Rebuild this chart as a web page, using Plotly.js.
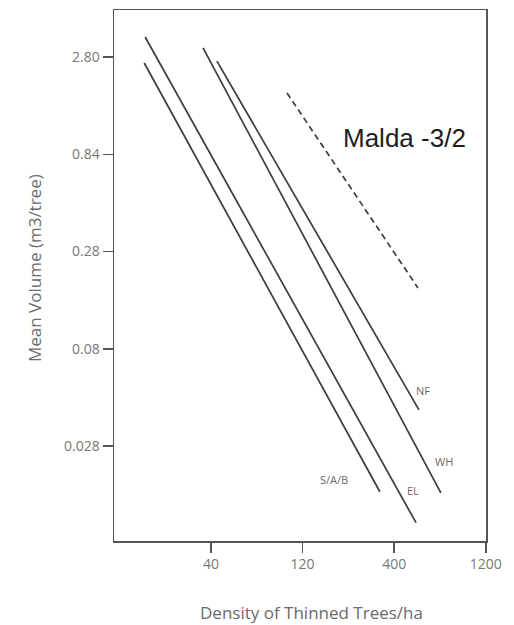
<!DOCTYPE html>
<html><head><meta charset="utf-8">
<script src="https://cdn.plot.ly/plotly-3.0.1.min.js"></script>
<style>html,body{margin:0;padding:0;background:#fff}</style>
</head><body><div id="chart" style="width:514px;height:625px"></div>
<script>
// Data (log-log axes)
const seriesNames = ['S/A/B', 'EL', 'WH', 'NF', 'Malda -3/2'];
const sabX = [17.3, 334];   const sabY = [2.61, 0.0163];
const elX  = [17.5, 526];   const elY  = [3.55, 0.0113];
const whX  = [36.2, 719];   const whY  = [3.12, 0.0161];
const nfX  = [43.1, 546];   const nfY  = [2.67, 0.0430];
const maldaX = [104, 539];  const maldaY = [1.83, 0.182];
const labelX = [187.5, 506, 746, 574, 458];
const labelY = [0.0188, 0.0165, 0.0232, 0.0538, 1.07];
const xTickVals = [40, 126.49, 400, 1264.9];
const xTickText = ['40', '120', '400', '1200'];
const yTickVals = [2.8, 0.8854, 0.28, 0.08854, 0.028];
const yTickText = ['2.80', '0.84', '0.28', '0.08', '0.028'];
const xTitle = 'Density of Thinned Trees/ha';
const yTitle = 'Mean Volume (m3/tree)';

const lineColor = '#3c3c3c';
const xs = [sabX, elX, whX, nfX, maldaX];
const ys = [sabY, elY, whY, nfY, maldaY];
const traces = xs.map((x, i) => ({
  x: x, y: ys[i], type: 'scatter', mode: 'lines', name: seriesNames[i],
  line: {color: lineColor, width: 1.7, dash: i === 4 ? '6px,4px' : 'solid'},
  hoverinfo: 'skip'
}));

const labelAnn = seriesNames.map((t, i) => ({
  x: Math.log10(labelX[i]), y: Math.log10(labelY[i]), xref: 'x', yref: 'y',
  text: t, showarrow: false, xanchor: 'center', yanchor: 'middle',
  font: i === 4 ? {family: 'Liberation Sans, Arial', size: 26, color: '#1e1e1e'}
                : {family: 'Open Sans', size: 11, color: '#6a6a6a'}
}));

const layout = {
  width: 514, height: 625,
  margin: {l: 114, r: 28, t: 10, b: 84},
  paper_bgcolor: '#ffffff', plot_bgcolor: '#ffffff',
  showlegend: false,
  xaxis: {
    type: 'log', range: [1.073, 3.103],
    tickvals: xTickVals, ticktext: xTickText,
    ticks: 'outside', ticklen: 10, tickwidth: 1.5, tickcolor: '#555',
    showline: true, linecolor: '#555', linewidth: 1.5, mirror: true,
    showgrid: false, zeroline: false,
    tickfont: {family: 'Open Sans', size: 14, color: '#777'}
  },
  yaxis: {
    type: 'log', range: [-2.041, 0.689],
    tickvals: yTickVals, ticktext: yTickText,
    ticks: 'outside', ticklen: 10, tickwidth: 1.5, tickcolor: '#555',
    showline: true, linecolor: '#555', linewidth: 1.5, mirror: true,
    showgrid: false, zeroline: false,
    tickfont: {family: 'Open Sans', size: 14, color: '#777'}
  },
  annotations: labelAnn.concat([
    {text: xTitle, showarrow: false, xref: 'paper', yref: 'paper',
     xanchor: 'center', yanchor: 'middle', font: {family: 'Open Sans', size: 17, color: '#6a6a6a'}},
    {text: yTitle, showarrow: false, textangle: -90, xref: 'paper', yref: 'paper',
     xanchor: 'center', yanchor: 'middle', font: {family: 'Open Sans', size: 17, color: '#6a6a6a'}}
  ])
};
// Place the axis titles at pixel positions
const pw = 514 - 114 - 28, ph = 625 - 10 - 84;
layout.annotations[5].x = (311 - 114) / pw; layout.annotations[5].y = (625 - 84 - 612) / ph;
layout.annotations[6].x = (34 - 114) / pw;  layout.annotations[6].y = (625 - 84 - 268) / ph;

Plotly.newPlot('chart', traces, layout, {displayModeBar: false, staticPlot: true});
</script></body></html>
